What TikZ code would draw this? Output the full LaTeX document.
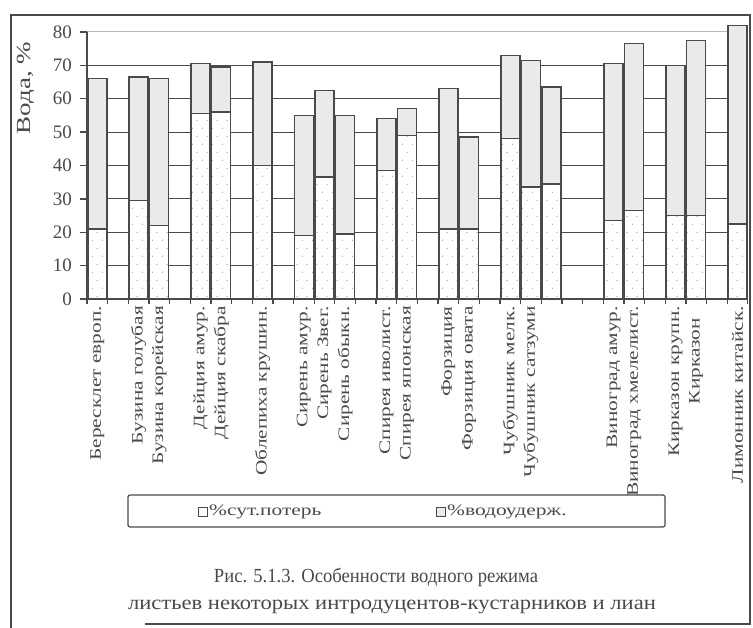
\documentclass[tikz,border=0pt]{standalone}
\usepackage{fontspec}
\usepackage{graphicx}
\setmainfont{Liberation Serif}
\usetikzlibrary{patterns.meta,calc}
\definecolor{ink}{HTML}{4A4A4A}
\definecolor{upper}{HTML}{EAEAEA}
\definecolor{faint}{HTML}{B8B8B8}
\newcommand{\hstretch}[2]{\scalebox{#1}[1]{#2}}
\tikzdeclarepattern{
  name=sparsedots,
  type=uncolored,
  bottom left={(0pt,0pt)},
  top right={(10pt,16pt)},
  tile size={(10pt,16pt)},
  code={
    \fill (2.5pt,4pt) circle (0.6pt);
    \fill (7.5pt,12pt) circle (0.6pt);
  }
}
\begin{document}
\begin{tikzpicture}[x=1pt,y=-1pt,
  txt/.style={text=ink, inner sep=0pt},
  ticklab/.style={txt, font=\fontsize{19}{19}\selectfont, anchor=east},
  catlab/.style={txt, font=\fontsize{16}{16}\selectfont, rotate=90, anchor=east},
  gridln/.style={draw=ink, line width=1.1pt},
  lightgrid/.style={draw=faint, line width=1pt},
  axisln/.style={draw=ink, line width=1.3pt},
  barlow/.style={draw=ink, line width=1.4pt, pattern=sparsedots, pattern color=gray},
  barhigh/.style={draw=ink, line width=1.4pt, fill=upper},
  frameln/.style={draw=ink, line width=1.2pt},
  legtxt/.style={txt, font=\fontsize{16}{16}\selectfont, anchor=west},
  legkey/.style={draw=ink, line width=0.8pt, minimum size=9pt, inner sep=0pt},
  captxt/.style={txt, font=\fontsize{20}{20}\selectfont},
]
\useasboundingbox (0,0) rectangle (753,628);
\fill[white] (0,0) rectangle (753,628);
% outer frame
\draw[frameln] (145,624) -- (750,624) -- (750,15) -- (11,15) -- (11,628);

\begin{scope}[shift={(87,299)}, x=20.65pt, y=3.3375pt]
  \draw[lightgrid] (0,80) -- (32,80);
  \foreach \v in {10,20,...,70} \draw[gridln] (0,\v) -- (32,\v);
  \foreach \s/\t/\l in {0/66/21, 2/66.5/29.5, 3/66/22, 5/70.5/55.5, 6/69.5/56,
      8/71/40, 10/55/19, 11/62.5/36.5, 12/55/19.5, 14/54/38.5, 15/57/49,
      17/63/21, 18/48.5/21, 20/73/48, 21/71.5/33.5, 22/63.5/34.5,
      25/70.5/23.5, 26/76.5/26.5, 28/70/25, 29/77.5/25, 31/82/22.5} {
    \fill[white] (\s+0.04,0) rectangle (\s+0.96,\l);
    \draw[barlow] (\s+0.04,0) rectangle (\s+0.96,\l);
    \draw[barhigh] (\s+0.04,\l) rectangle (\s+0.96,\t);
  }
  \draw[axisln] (0,80) -- (0,0) -- (32,0);
  \foreach \v in {0,10,...,80} {
    \draw[axisln] (0,\v) -- ++(-7pt,0);
    \node[ticklab] (t\v) at ([xshift=-15pt]0,\v) {\v};
  }
  \foreach \k in {0,...,32} \draw[axisln] (\k,0) -- ++(0,-5pt);
  % category labels
  \foreach \k/\name in {0/Бересклет европ., 2/Бузина голубая, 3/Бузина корейская,
      5/Дейция амур., 6/Дейция скабра, 8/Облепиха крушин., 10/Сирень амур.,
      11/Сирень Звег., 12/Сирень обыкн., 14/Спирея иволист., 15/Спирея японская,
      17/Форзиция, 18/Форзиция овата, 20/Чубушник мелк., 21/Чубушник сатзуми,
      25/Виноград амур., 26/Виноград хмелелист., 28/Кирказон крупн.,
      31/Лимонник китайск.} {
    \node[catlab] (c\k) at ([yshift=-7pt]\k+0.5,0) {\hstretch{1.33}{\name}};
  }
  \node[catlab] (c29) at ([yshift=-19pt]29.5,0) {\hstretch{1.33}{Кирказон}};
\end{scope}

\node[txt, rotate=90, anchor=center, font=\fontsize{20}{20}\selectfont] (ytitle) at (26,88) {\hstretch{1.35}{Вода, \%}};

% legend
\draw[draw=ink, line width=1.2pt, rounded corners=2pt] (128,495) rectangle (665,527);
\node[legkey, fill=white] (k1) at (203,512) {};
\node[legtxt] (l1) at (209,512) {\hstretch{1.34}{\%сут.потерь}};
\node[legkey, fill=upper] (k2) at (441,512) {};
\node[legtxt] (l2) at (447,512) {\hstretch{1.34}{\%водоудерж.}};

% caption
\node[captxt] (cap1) at (376,577) {\hstretch{0.93}{Рис. 5.1.3. Особенности водного режима}};
\node[captxt] (cap2) at (392,607) {\hstretch{1.13}{листьев некоторых интродуцентов-кустарников и лиан}};
\end{tikzpicture}
\end{document}
